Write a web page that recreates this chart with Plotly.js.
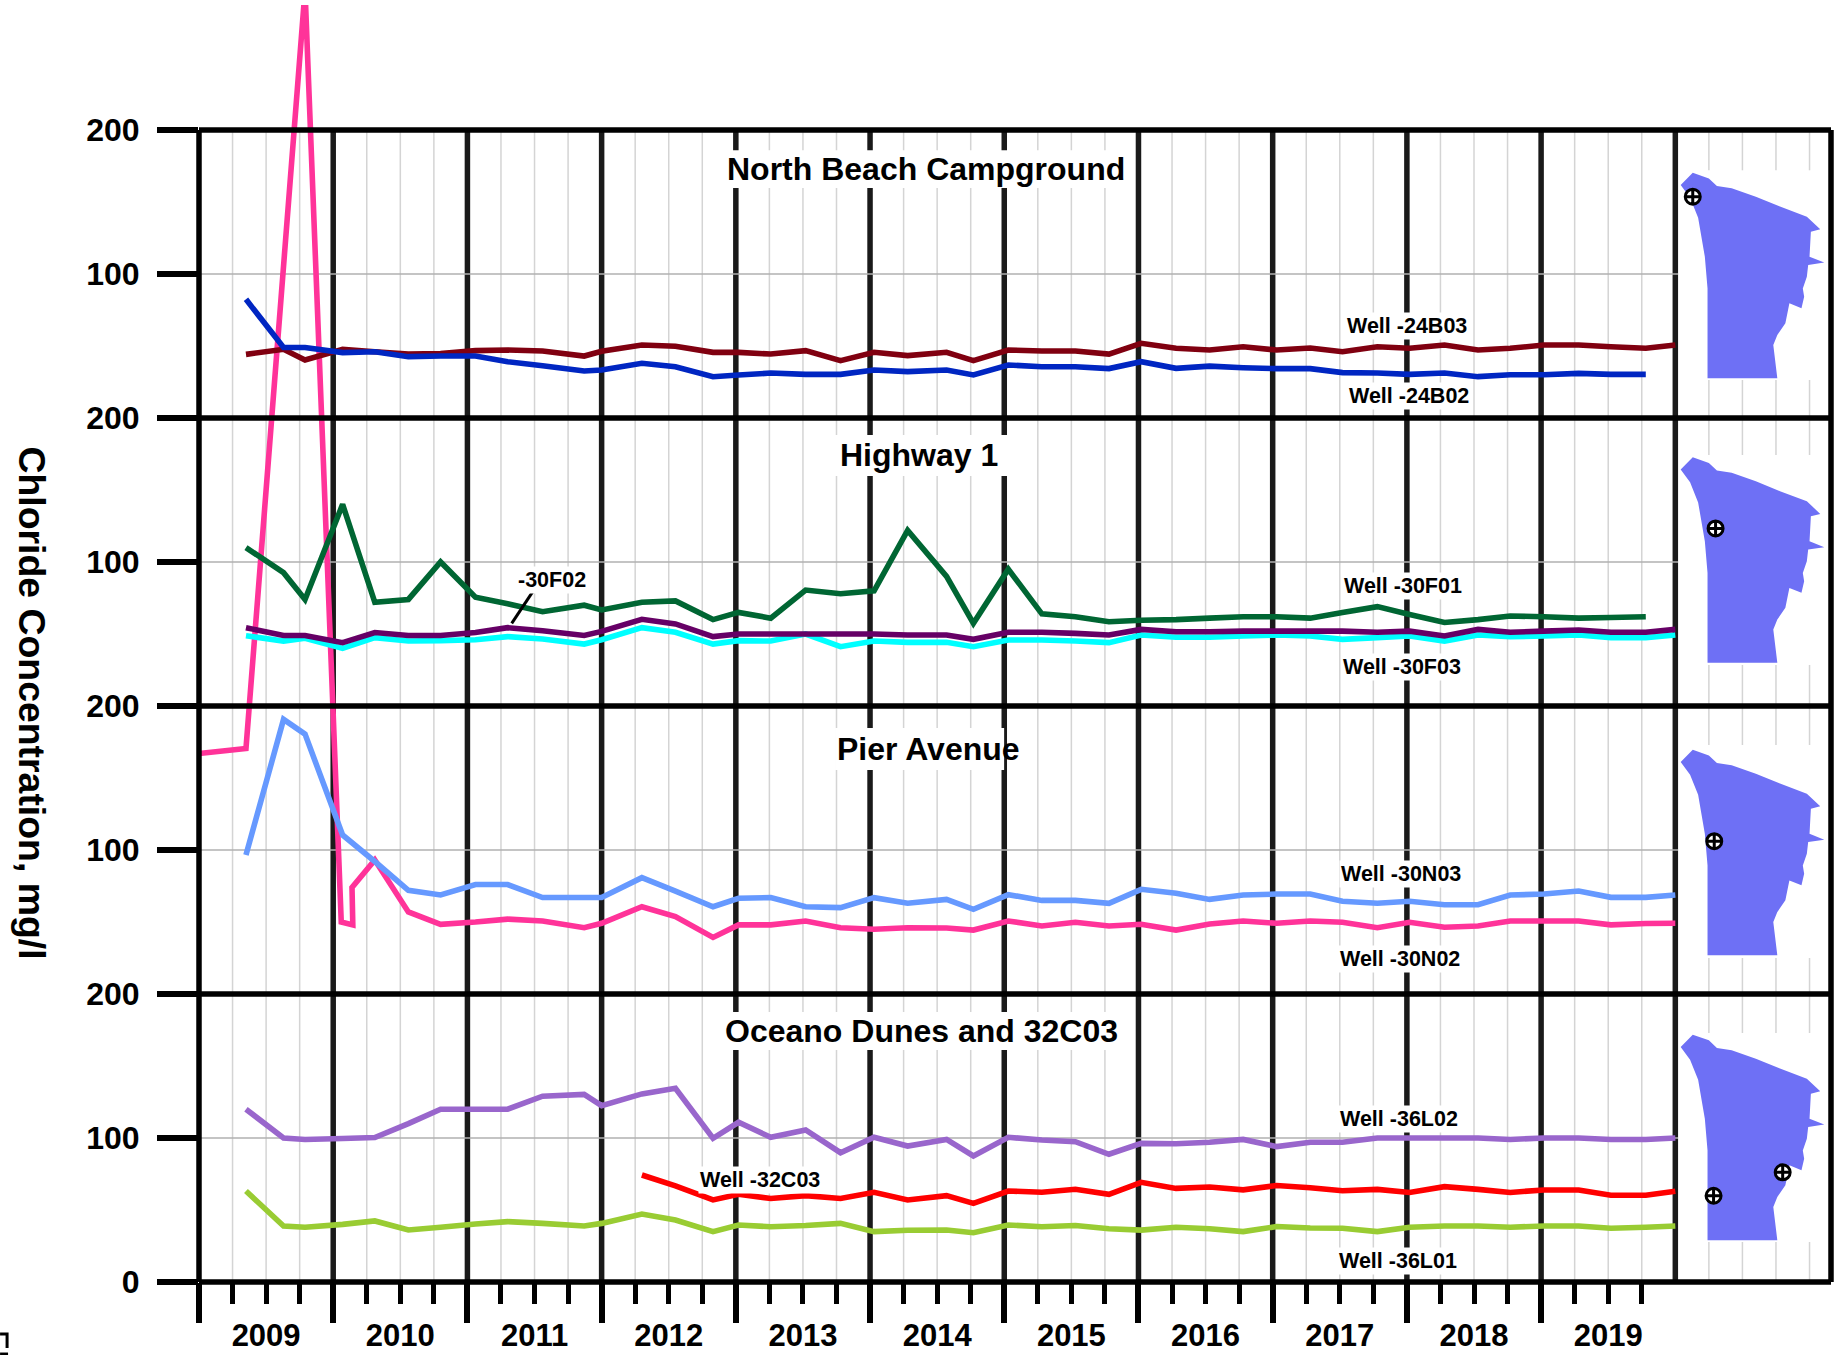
<!DOCTYPE html>
<html>
<head>
<meta charset="utf-8">
<script src="https://cdn.plot.ly/plotly-3.0.1.min.js"></script>
<style>html,body{margin:0;padding:0;background:#fff;overflow:hidden}#chart{width:1837px;height:1355px}</style>
</head>
<body>
<div id="chart"></div>
<script>
// ---- shared sampling dates (decimal years)
const t = [2009.35,2009.63,2009.79,2010.07,2010.31,2010.56,2010.80,2011.06,2011.30,2011.56,2011.87,2012.00,
  2012.30,2012.55,2012.83,2013.02,2013.26,2013.52,2013.78,2014.03,2014.28,2014.57,2014.77,2015.03,2015.28,2015.53,2015.78,
  2016.02,2016.28,2016.53,2016.78,2017.03,2017.28,2017.52,2017.78,2018.02,2018.28,2018.53,2018.77,2019.02,2019.28,2019.52,2019.78,2020.00];

// ---- North Beach Campground
const well24B03 = [44.2,47.7,40.3,47.7,46,44.4,44.8,46.8,47.2,46.5,43,46.3,50.7,49.8,45.6,45.6,44.4,46.8,39.8,45.6,43.3,45.6,39.8,47.2,46.5,46.5,44.4,51.9,48.4,47.2,49.5,47.2,48.6,46,49.5,48.4,50.7,47.2,48.4,50.7,50.7,49.5,48.4,50.7];
const well24B02 = [82.4,49,49,45.4,46,42.6,43,43,39.1,36.3,32.6,33.3,38,35.6,28.7,29.9,31.2,30.3,30.3,33.3,32.2,33.3,29.9,36.8,35.6,35.6,34.3,39.1,34.5,36,34.9,34.3,34.3,31.5,31.2,30.3,31.2,28.7,30,30,31,30.3,30.3,null];
// ---- Highway 1
const well30F01 = [110,92.6,74,140,72,74,100,75.5,71,65.5,70,66.7,72,73,60,65,61,80.5,78,80,122,90,57.4,95,64,62,58.5,59.5,60,61,62,62,61,65,69,63.5,58,60,62.5,62,61,61.5,62,null];
const well30F02 = [54.4,49,49,44,51,49,49,51,54.4,52.3,49,51.8,60.2,57,48.2,50,50,50,50,50,49.3,49.3,46.3,51.2,51.2,50.4,49.3,53.2,51.6,51.6,52,52,52,52,51.2,52,48.6,53.2,51.2,52,52.8,51.2,51.2,53.2];
const well30F03 = [48.8,45.1,47,40,47.5,45.1,45.4,46,48.2,46.5,43,46,54.4,51.2,43,45.4,45.1,50,41.2,45.1,44.2,44.2,41.2,45.8,45.8,45.1,44,49.3,47.7,47.7,48.6,49.3,48.6,46.3,47.5,48.6,45.1,49.3,48.1,48.6,49.3,47.5,47.5,49.3];
// ---- Pier Avenue
const well30N03 = [96.5,190.7,180.5,110.4,92,72,68.8,76,76,67,67,67,80.8,71.5,60.6,66.5,66.9,60.6,60,66.9,63,65.7,58.8,69,65,65,63,72.7,70,65.7,68.7,69.4,69.4,64.4,63,64.4,62,62,68.7,69.4,71.5,67.1,67.1,68.7];
const t30N02 = [2009.00,2009.35,2009.79,2010.06,2010.146,2010.14,2010.31,2010.56,2010.80,2011.06,2011.30,2011.56,2011.87,2012.00,
  2012.30,2012.55,2012.83,2013.02,2013.26,2013.52,2013.78,2014.03,2014.28,2014.57,2014.77,2015.03,2015.28,2015.53,2015.78,
  2016.02,2016.28,2016.53,2016.78,2017.03,2017.28,2017.52,2017.78,2018.02,2018.28,2018.53,2018.77,2019.02,2019.28,2019.52,2019.78,2020.00];
const well30N02 = [167,170.5,697,50,48,74,93,57,48.4,50,52,50.7,46,49.1,60.6,53.7,39.3,48,48,50.7,46,45,46,45.8,44.4,50.7,47.2,49.8,47.2,48.4,44.4,48.6,50.7,49.1,50.7,49.8,46,49.8,46.4,47.2,50.7,50.7,50.7,48,49,49.1];
// ---- Oceano Dunes and 32C03
const well36L02 = [120,100,99,99.7,100.3,110,120,120,120,129,130.3,122.5,130.6,134.5,99.8,110.9,100.5,105.6,89.8,100.5,94.4,99,87.5,100.5,98.6,97.4,88.7,96.3,96,97,99,94,97,97,100,100,100,100,99,100,100,99,99,100];
const well32C03 = [null,null,null,null,null,null,null,null,null,null,null,null,74.3,66.7,57,60.9,58,60,58,62.3,57,60,54.6,63.2,62.3,64.4,60.9,69.2,65,66,64,67,65.5,63.4,64.3,62.2,66.2,64.3,62.2,63.9,63.9,60.2,60.2,63];
const well36L01 = [63.2,38.9,38,40,42.4,36.1,38,40.3,41.9,40.7,38.9,40.7,47.2,43,35,39.6,38.4,39.2,40.7,35,35.9,36.1,34.2,39.6,38.4,39.2,37,36,38,37,35,38.5,37.5,37.3,35,38,38.9,38.9,38,38.9,38.9,37.3,38,38.9];

// ---- axes
const years = [2009,2010,2011,2012,2013,2014,2015,2016,2017,2018,2019];
const yTickVals = [0,100,200,300,400,500,600,700,800];
const yTickText = ['0','100','200','100','200','100','200','100','200'];
const panelBases = {north:600, highway:400, pier:200, oceano:0};
const panelDividers = [200,400,600];
const panelMidlines = [100,300,500,700];

// ---- locator map outline (same axis units, relative to the map's panel)
const mapX = [2020.04,2020.13,2020.25,2020.31,2020.42,2020.60,2020.78,2020.98,2021.08,2021.01,2021.00,2021.11,2020.99,2020.98,2020.95,2020.96,2020.94,2020.85,2020.84,2020.82,2020.76,2020.73,2020.76,2020.24,2020.24,2020.22,2020.17,2020.11,2020.04];
const mapY = [161.8,170.3,166.4,161.1,159.5,153.7,146.8,139.8,131,129.4,112,107.9,106.3,98.1,90,84.2,76.2,79.6,75,65.8,57.6,50.7,27.6,27.6,90,112,139,153,161.8];
const mapBases = [600,402.4,199.3,1.4];
const wellSitesX = [2020.13,2020.30,2020.29,2020.285,2020.80];
const wellSitesY = [753.7,523.3,306.1,59.9,76.2];
const mapGridX = [2020.25,2020.5,2020.75,2021];
const mapGridSpans = [[772,800],[574.3,626.4],[372.9,428.5],[172.9,225],[0,27.8]];

const font = 'Liberation Sans, Arial, sans-serif';
const frameTop = 800 / 886.8;  // the 800 level, as a share of the plot height
const lineTrace = (x, y, base, color) => ({
  x, y: y.map(v => v === null ? null : v + base), type:'scatter', mode:'lines',
  line:{color, width:5.6, simplify:false}, hoverinfo:'skip', showlegend:false
});

const traces = [];
traces.push(lineTrace(t30N02, well30N02, panelBases.pier, '#ff3399'));
traces.push(lineTrace(t, well24B03, panelBases.north, '#800010'));
traces.push(lineTrace(t, well24B02, panelBases.north, '#0026c2'));
traces.push(lineTrace(t, well30F01, panelBases.highway, '#006633'));
traces.push(lineTrace(t, well30F03, panelBases.highway, '#00ffff'));
traces.push(lineTrace(t, well30F02, panelBases.highway, '#660066'));
traces.push(lineTrace(t, well30N03, panelBases.pier, '#6699ff'));
traces.push(lineTrace(t, well36L01, panelBases.oceano, '#99cc33'));
traces.push(lineTrace(t, well32C03, panelBases.oceano, '#ff0000'));
traces.push(lineTrace(t, well36L02, panelBases.oceano, '#9966cc'));

mapBases.forEach(b => traces.push({
  x: mapX, y: mapY.map(v => v + b), type:'scatter', mode:'lines', fill:'toself',
  fillcolor:'#6e70f5', line:{width:0, color:'#6e70f5'}, hoverinfo:'skip', showlegend:false
}));
traces.push({
  x: wellSitesX, y: wellSitesY, type:'scatter', mode:'markers', hoverinfo:'skip', showlegend:false,
  marker:{symbol:'circle-cross', size:15, color:'#ffffff', line:{color:'#000000', width:3}}
});

// ---- tick sets
const quarterTicks = [];
const quarterText = [];
years.forEach(y => [0.25,0.5,0.75].forEach(q => {
  quarterTicks.push(y + q);
  quarterText.push(q === 0.5 ? String(y) : '');
}));

// ---- shapes
const shapes = [];
const below = (x0, x1, y0, y1, color, width) => shapes.push({type:'line', xref:'x', yref:'y', x0, x1, y0, y1, layer:'below', line:{color, width}});
quarterTicks.forEach(x => below(x, x, 0, 800, '#d4d4d4', 1.5));
years.slice(1).concat([2020]).forEach(x => below(x, x, 0, 800, '#1a1a1a', 5.5));
mapGridX.forEach(x => mapGridSpans.forEach(s => below(x, x, s[0], s[1], '#d4d4d4', 1.5)));
panelMidlines.forEach(v => below(2009, 2020.02, v, v, '#b0b0b0', 1.5));

const titleBoxes = [[2012.92,2015.94,759.7,786],[2013.70,2015.04,559.7,588.2],[2013.74,2014.999,355.6,384.7],[2012.88,2015.90,161.1,187.5]];
titleBoxes.forEach(b => shapes.push({type:'rect', xref:'x', yref:'y', x0:b[0], x1:b[1], y0:b[2], y1:b[3], layer:'above', line:{width:0}, fillcolor:'#fff'}));

// frame and panel dividers sit over the data lines
const frame = (x0, x1, y0, y1) => shapes.push({type:'line', xref:'paper', yref:'paper', x0, x1, y0, y1, layer:'above', line:{color:'#000', width:5.5}});
frame(0, 0, 0, frameTop);
frame(1, 1, 0, frameTop);
frame(0, 1, 0, 0);
frame(0, 1, frameTop, frameTop);
panelDividers.forEach(v => frame(0, 1, v / 886.8, v / 886.8));

// leader of the -30F02 label
shapes.push({type:'line', xref:'x', yref:'y', x0:2011.487, x1:2011.33, y0:479.4, y1:457.4, layer:'above', line:{color:'#000', width:3}});

// stray clipped glyph in the lower-left corner of the source picture
const stray = {color:'#000', width:3};
shapes.push({type:'path', xref:'paper', yref:'paper', layer:'above', line:stray,
  path:'M -0.1219 -0.0407 L -0.1176 -0.0407 L -0.1176 -0.0517'});
shapes.push({type:'line', xref:'paper', yref:'paper', layer:'above', line:stray, x0:-0.1219, x1:-0.1170, y0:-0.0564, y1:-0.0564});

// ---- text
const title = (text, x, y) => ({text, x, y, xref:'x', yref:'y', showarrow:false, font:{family:font, size:32, color:'#000', weight:'bold'}});
const well = (text, x, y) => ({text, x, y, xref:'x', yref:'y', showarrow:false, bgcolor:'#fff', borderpad:1, font:{family:font, size:21.5, color:'#000', weight:'bold'}});
const annotations = [
  title('North Beach Campground', 2014.417, 772.9),
  title('Highway 1', 2014.365, 574.3),
  title('Pier Avenue', 2014.432, 370),
  title('Oceano Dunes and 32C03', 2014.387, 174.3),
  well('Well -24B03', 2017.998, 663.8),
  well('Well -24B02', 2018.016, 615.2),
  well('Well -30F01', 2017.97, 483),
  well('Well -30F03', 2017.964, 427),
  well('-30F02', 2011.63, 487.3),
  well('Well -30N03', 2017.957, 283.2),
  well('Well -30N02', 2017.95, 224.2),
  well('Well -32C03', 2013.177, 70.5),
  well('Well -36L02', 2017.939, 113),
  well('Well -36L01', 2017.931, 14.4),
  {text:'Chloride Concentration, mg/l', xref:'paper', yref:'paper', x:-0.1026, y:0.4534, xanchor:'center', yanchor:'middle', textangle:90, showarrow:false,
   font:{family:font, size:37.4, color:'#000', weight:'bold'}}
];

const layout = {
  width:1837, height:1355, paper_bgcolor:'#fff', plot_bgcolor:'#fff',
  margin:{l:199, r:6, t:5, b:73, pad:0},
  showlegend:false, shapes, annotations,
  xaxis:{
    range:[2009,2021.16], zeroline:false, showline:false,
    tickmode:'array', tickvals:quarterTicks, ticktext:quarterText, ticks:'outside', ticklen:21, tickwidth:5, tickcolor:'#000',
    ticklabelstandoff:5, tickangle:0, tickfont:{family:font, size:31, color:'#000', weight:'bold'},
    showgrid:false,
    minor:{tickmode:'array', tickvals:years, ticks:'outside', ticklen:40, tickwidth:5.5, tickcolor:'#000', showgrid:false}
  },
  yaxis:{
    range:[0,886.8], zeroline:false, showline:false,
    tickmode:'array', tickvals:yTickVals, ticktext:yTickText, ticks:'outside', ticklen:41, tickwidth:5.5, tickcolor:'#000',
    ticklabelstandoff:11, tickfont:{family:font, size:32, color:'#000', weight:'bold'},
    showgrid:false
  }
};
Plotly.newPlot('chart', traces, layout, {displayModeBar:false, responsive:false});
</script>
</body>
</html>
